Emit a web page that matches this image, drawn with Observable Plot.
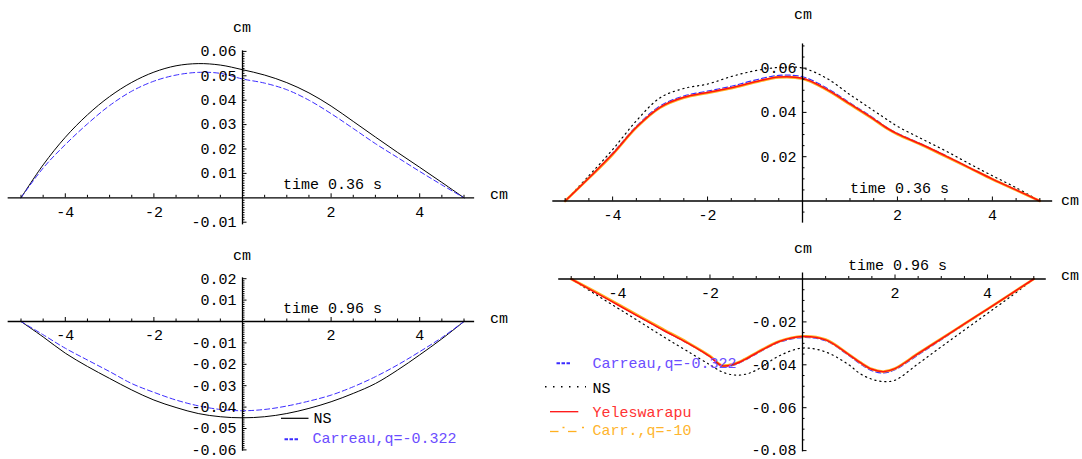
<!DOCTYPE html>
<html><head><meta charset="utf-8">
<script src="https://cdn.jsdelivr.net/npm/d3@7"></script>
<script src="https://cdn.jsdelivr.net/npm/@observablehq/plot@0.6"></script>
<style>
body{margin:0;background:#fff;}
#wrap{position:relative;width:1082px;height:459px;overflow:hidden;background:#fff;}
#wrap svg{position:absolute;left:0;top:0;}
</style></head><body><div id="wrap"></div>
<script>
// ---------- data ----------
const xsHalf = [-5,-4.5,-4,-3.5,-3,-2.5,-2,-1.5,-1,-0.5,0,0.5,1,1.5,2,2.5,3,3.5,4,4.5,5];

// panel 1 : time 0.36 s (left)
const p1NS      = [0,.0135,.0248,.0340,.0415,.0473,.0515,.0541,.0550,.0544,.0525,.0503,.0472,.0430,.0376,.0313,.0249,.0186,.0125,.0063,0];
const p1Carreau = [0,.0122,.0218,.0303,.0378,.0437,.0478,.0503,.0514,.0510,.0487,.0470,.0443,.0400,.0345,.0284,.0222,.0165,.0108,.0053,0];

// panel 2 : time 0.96 s (left)
const p2NS      = [0,-.0072,-.0148,-.0210,-.0266,-.0320,-.0367,-.0402,-.0430,-.0445,-.0450,-.0445,-.0430,-.0406,-.0375,-.0336,-.0290,-.0227,-.0156,-.0081,0];
const p2Carreau = [0,-.0062,-.0125,-.0180,-.0234,-.0290,-.0331,-.0367,-.0394,-.0411,-.0417,-.0411,-.0395,-.0372,-.0344,-.0305,-.0258,-.0203,-.0141,-.0075,0];

// panel 3 : time 0.36 s (right)
const xs3 = [-5,-4.5,-4,-3.5,-3,-2.5,-2,-1.5,-1,-0.5,0,0.5,1,1.5,1.75,2,2.5,3,3.5,4,4.5,5];
const p3NS      = [0,.0114,.0232,.0362,.0466,.0508,.0528,.0562,.0588,.0603,.0600,.0555,.0480,.0408,.0372,.0337,.0282,.0228,.0170,.0114,.0060,0];
const p3Carreau = [0,.0106,.0216,.0337,.0429,.0474,.0496,.0518,.0546,.0567,.0561,.0511,.0443,.0374,.0336,.0306,.0258,.0207,.0153,.0100,.0051,0];
const p3Yeles    = [0,.0104,.0212,.0333,.0423,.0468,.0490,.0511,.0538,.0560,.0554,.0505,.0438,.0370,.0333,.0303,.0256,.0205,.0152,.0099,.0050,0];
const p3Carr10   = [0,.0103,.0210,.0331,.0421,.0466,.0488,.0509,.0536,.0558,.0552,.0503,.0436,.0368,.0331,.0301,.0254,.0203,.0151,.0098,.0049,0];

// panel 4 : time 0.96 s (right)
const xs4 = [-5,-4.5,-4,-3.5,-3,-2.5,-2,-1.75,-1.5,-1.25,-1,-0.5,0,0.5,1,1.25,1.5,1.75,2,2.5,3,3.5,4,4.5,5];
const p4NS      = [0,-.0068,-.0135,-.0202,-.0270,-.0335,-.0400,-.0432,-.0447,-.0445,-.0425,-.0358,-.0322,-.0340,-.0400,-.0442,-.0467,-.0478,-.0472,-.0395,-.0316,-.0238,-.0160,-.0082,0];
const p4Carreau = [0,-.0058,-.0118,-.0180,-.0240,-.0298,-.0363,-.0407,-.0403,-.0379,-.0349,-.0295,-.0273,-.0288,-.0357,-.0396,-.0427,-.0438,-.0423,-.0354,-.0283,-.0212,-.0142,-.0071,0];
const p4Yeles    = [0,-.0060,-.0120,-.0180,-.0240,-.0297,-.0362,-.0404,-.0399,-.0376,-.0346,-.0291,-.0268,-.0284,-.0352,-.0390,-.0421,-.0432,-.0418,-.0348,-.0279,-.0209,-.0140,-.0070,0];
const p4Carr10   = [0,-.0057,-.0116,-.0177,-.0236,-.0294,-.0359,-.0402,-.0397,-.0374,-.0344,-.0290,-.0267,-.0282,-.0351,-.0389,-.0420,-.0431,-.0417,-.0347,-.0278,-.0209,-.0140,-.0070,0];

// tick labels
const xTickValues = [-4,-2,2,4];
const xTickLabels = ["-4","-2","2","4"];
const y1TickValues = [0.06,0.05,0.04,0.03,0.02,0.01,-0.01];
const y1TickLabels = ["0.06","0.05","0.04","0.03","0.02","0.01","-0.01"];
const y2TickValues = [0.02,0.01,-0.01,-0.02,-0.03,-0.04,-0.05,-0.06];
const y2TickLabels = ["0.02","0.01","-0.01","-0.02","-0.03","-0.04","-0.05","-0.06"];
const y3TickValues = [0.02,0.04,0.06];
const y3TickLabels = ["0.02","0.04","0.06"];
const y4TickValues = [-0.02,-0.04,-0.06,-0.08];
const y4TickLabels = ["-0.02","-0.04","-0.06","-0.08"];

// ---------- drawing ----------
const FONT = "'Liberation Mono','Courier New',monospace";
const W = 1082, H = 459;
const wrap = document.getElementById("wrap");
const BLUE = "#3b2bff", RED = "#ff1010", ORANGE = "#ffb020";

const xMinorAll = d3.range(-10, 11).map(v => v/2).filter(v => v !== 0 && !xTickValues.includes(v));
function minorTicks(lo, hi, step, major) {
  return d3.range(lo, hi + 1, step).filter(v => v !== 0 && v % major !== 0).map(v => v/1000);
}

function panel(c) {
  const xr = [c.x0 - 5*c.xu, c.x0 + 5*c.xu];
  const yr = [c.y0 + 0.1*c.yu, c.y0 - 0.1*c.yu];
  const marks = [];
  for (const s of c.series) {
    marks.push(Plot.line(s.y.map((v,i) => ({x: s.x[i], y: v})), {
      x: "x", y: "y", curve: "catmull-rom", stroke: s.stroke,
      strokeWidth: s.w, strokeDasharray: s.dash
    }));
  }
  const tickStyle = {stroke: "#000", strokeWidth: 1};
  const textStyle = {fontFamily: FONT, fontSize: 15, fill: "#000"};
  marks.push(
    Plot.ruleY([0], {y: d => d, x1: () => c.xAxis[0], x2: () => c.xAxis[1], stroke: "#000", strokeWidth: 1.3}),
    Plot.ruleX([0], {x: d => d, y1: () => c.yAxis[0], y2: () => c.yAxis[1], stroke: "#000", strokeWidth: 1.3}),
    Plot.ruleX(xMinorAll, {x: d => d, y1: () => 0, y2: () => 0, insetTop: -2.5, ...tickStyle}),
    Plot.ruleX(xTickValues, {x: d => d, y1: () => 0, y2: () => 0, insetTop: -4, ...tickStyle}),
    Plot.ruleY(c.yMinor, {y: d => d, x1: () => 0, x2: () => 0, insetRight: -c.minorLen, ...tickStyle}),
    Plot.ruleY(c.yMajor, {y: d => d, x1: () => 0, x2: () => 0, insetRight: -4.5, ...tickStyle}),
    Plot.text(xTickValues, {x: d => d, y: () => 0, text: (d,i) => xTickLabels[i], dy: 14, ...textStyle}),
    Plot.text(c.yMajor, {x: () => 0, y: d => d, text: (d,i) => c.yLabels[i], textAnchor: "end", dx: -6, ...textStyle})
  );
  const svg = Plot.plot({
    width: W, height: H, margin: 0,
    x: {domain: [-5, 5], range: xr, axis: null},
    y: {domain: [-0.1, 0.1], range: yr, axis: null},
    style: {background: "transparent", overflow: "visible"},
    marks
  });
  wrap.appendChild(svg);
}

// panel 1
panel({
  x0: 242, xu: 44.3, y0: 197.3, yu: 2440,
  xAxis: [-5.29, 5.24], yAxis: [-0.0111, 0.0602],
  yMinor: minorTicks(-10, 60, 1, 10), minorLen: 2.5, yMajor: y1TickValues, yLabels: y1TickLabels,
  series: [
    {x: xsHalf, y: p1NS, stroke: "#000", w: 1},
    {x: xsHalf, y: p1Carreau, stroke: BLUE, w: 1, dash: "5,3"}
  ]
});
// panel 2
panel({
  x0: 242, xu: 44.3, y0: 321, yu: 2140,
  xAxis: [-5.29, 5.24], yAxis: [-0.0606, 0.0204],
  yMinor: minorTicks(-60, 20, 1, 10), minorLen: 2.5, yMajor: y2TickValues, yLabels: y2TickLabels,
  series: [
    {x: xsHalf, y: p2NS, stroke: "#000", w: 1},
    {x: xsHalf, y: p2Carreau, stroke: BLUE, w: 1, dash: "5,3"}
  ]
});
// panel 3
panel({
  x0: 802, xu: 47.47, y0: 200.5, yu: 2215,
  xAxis: [-5.26, 5.27], yAxis: [-0.0100, 0.0709],
  yMinor: minorTicks(-5, 70, 5, 20), minorLen: 2.5, yMajor: y3TickValues, yLabels: y3TickLabels,
  series: [
    {x: xs3, y: p3NS, stroke: "#000", w: 1.2, dash: "1.2,3.8"},
    {x: xs3, y: p3Carreau, stroke: BLUE, w: 1.2, dash: "5,3"},
    {x: xs3, y: p3Carr10, stroke: ORANGE, w: 2.6},
    {x: xs3, y: p3Yeles, stroke: RED, w: 1.5}
  ]
});
// panel 4
panel({
  x0: 802, xu: 46.26, y0: 278.5, yu: 2145,
  xAxis: [-5.27, 5.27], yAxis: [-0.0806, 0.0028],
  yMinor: minorTicks(-80, 0, 5, 20), minorLen: 2.5, yMajor: y4TickValues, yLabels: y4TickLabels,
  series: [
    {x: xs4, y: p4NS, stroke: "#000", w: 1.2, dash: "1.2,3.8"},
    {x: xs4, y: p4Carreau, stroke: BLUE, w: 1.2, dash: "5,3"},
    {x: xs4, y: p4Carr10, stroke: ORANGE, w: 2.6},
    {x: xs4, y: p4Yeles, stroke: RED, w: 1.5}
  ]
});

// ---------- annotations & legends ----------
const ov = d3.select(wrap).append("svg").attr("width", W).attr("height", H);
function txt(x, y, s, fill = "#000", anchor = "start") {
  ov.append("text").attr("x", x).attr("y", y).attr("font-family", FONT)
    .attr("font-size", 15).attr("fill", fill).attr("text-anchor", anchor).text(s);
}
function seg(x1, x2, y, stroke, w, dash) {
  const l = ov.append("line").attr("x1", x1).attr("x2", x2).attr("y1", y).attr("y2", y)
    .attr("stroke", stroke).attr("stroke-width", w);
  if (dash) l.attr("stroke-dasharray", dash);
}
// panel 1
txt(242, 32, "cm", "#000", "middle");
txt(283, 189, "time 0.36 s");
txt(490, 199, "cm");
// panel 2
txt(242, 260, "cm", "#000", "middle");
txt(283, 312.7, "time 0.96 s");
txt(490, 322.7, "cm");
seg(281, 308.5, 418.3, "#000", 1.2);
txt(313.5, 423.3, "NS");
seg(284.5, 298.5, 439.3, BLUE, 2, "3.5,1.5");
txt(312.5, 443.3, "Carreau,q=-0.322", "#6b4dff");
// panel 3
txt(803, 19, "cm", "#000", "middle");
txt(850, 192.7, "time 0.36 s");
txt(1061, 205, "cm");
// panel 4
txt(803, 253.3, "cm", "#000", "middle");
txt(848, 270, "time 0.96 s");
txt(1061, 280, "cm");
seg(556.5, 571, 363.3, BLUE, 2, "3.5,1.5");
txt(592.6, 368.3, "Carreau,q=-0.322", "#6b4dff");
seg(545, 586, 386.7, "#000", 1.5, "1.5,6.5");
txt(592.6, 392.7, "NS");
seg(550, 578.3, 411.7, RED, 1.3);
txt(592.6, 416.7, "Yeleswarapu", "#ff3333");
seg(550, 558.5, 431.5, ORANGE, 1.3);
seg(562.5, 564.5, 427.5, ORANGE, 1.5);
seg(568, 576.5, 431.5, ORANGE, 1.3);
seg(582, 584, 427.5, ORANGE, 1.5);
txt(592.6, 435, "Carr.,q=-10", "#ffb52e");
</script>
</body></html>
